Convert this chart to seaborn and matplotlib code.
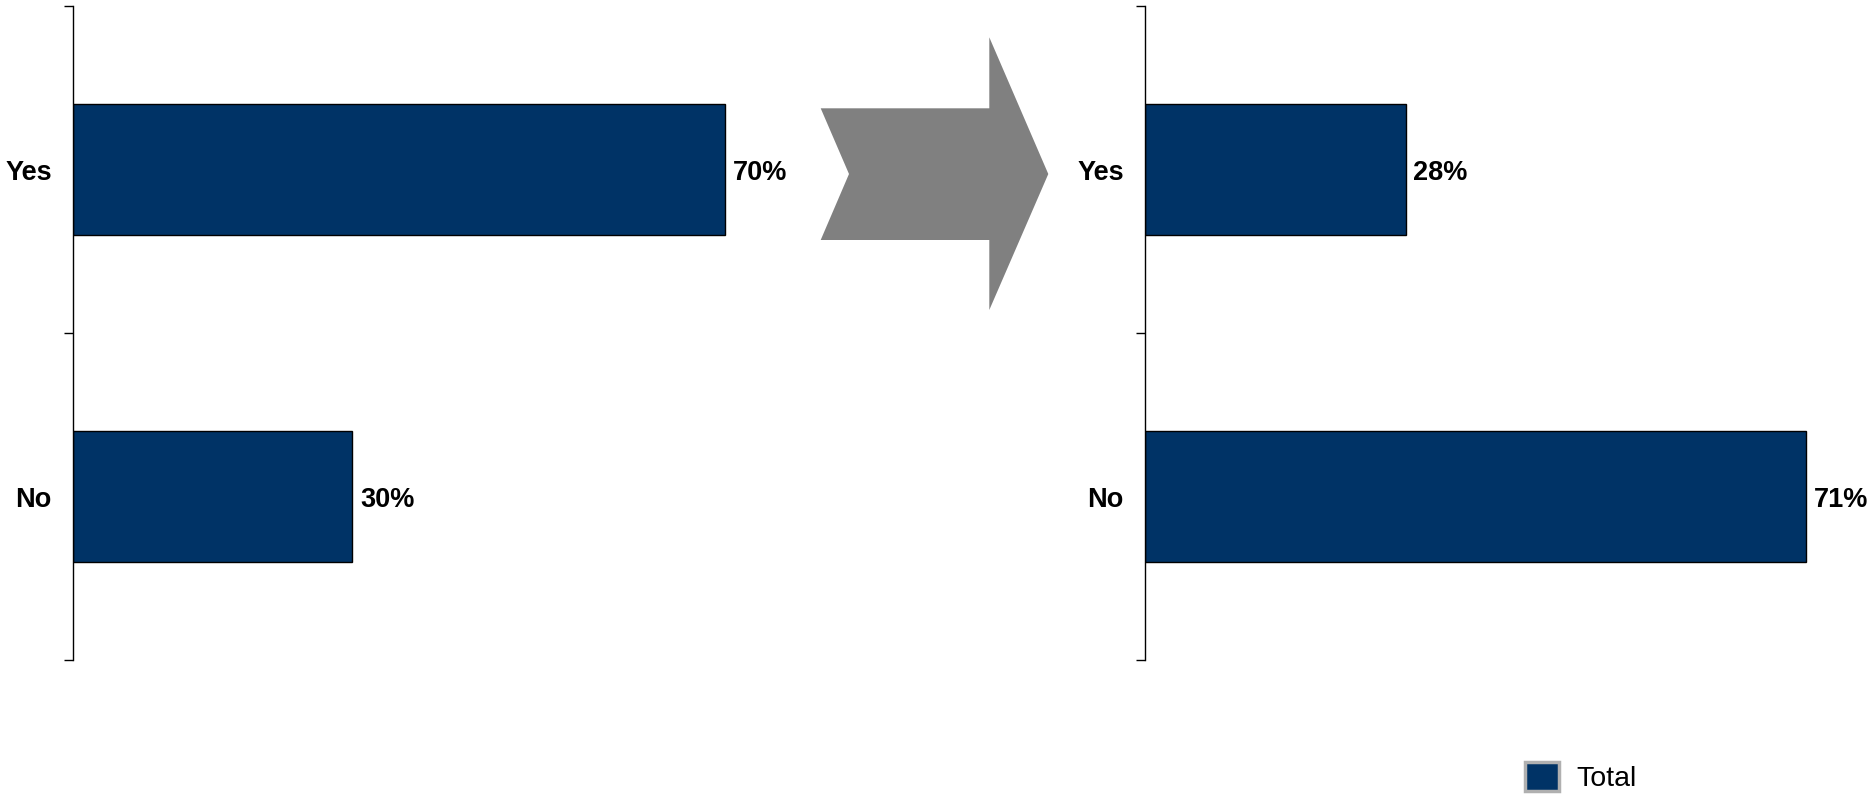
import matplotlib
matplotlib.use("Agg")
import matplotlib.pyplot as plt
import seaborn as sns
import pandas as pd
from matplotlib.patches import Polygon, Patch
from matplotlib.ticker import FixedLocator

# data
categories = ["Yes", "No"]
before_values = [70, 30]
after_values = [28, 71]
series_name = "Total"

bar_color = "#003366"

sns.set_style("white")
plt.rcParams["font.family"] = ["Liberation Sans", "DejaVu Sans"]
plt.rcParams["text.color"] = "black"
plt.rcParams["ytick.color"] = "black"
plt.rcParams["ytick.labelcolor"] = "black"

W, H = 1869, 796
fig = plt.figure(figsize=(W / 100, H / 100), dpi=100)

px_per_pct = 9.32
ax_w = 700
ax_bottom = (H - 660) / H
ax_height = 654 / H
xmax = ax_w / px_per_pct

ax1 = fig.add_axes([72.7 / W, ax_bottom, ax_w / W, ax_height])
ax2 = fig.add_axes([1144.6 / W, ax_bottom, ax_w / W, ax_height])


def draw_panel(ax, values):
    df = pd.DataFrame({"answer": categories, "pct": values})
    sns.barplot(data=df, x="pct", y="answer", orient="h", ax=ax,
                color=bar_color, width=0.4, edgecolor="black",
                linewidth=1.0, saturation=1)
    ax.set_xlim(0, xmax)
    ax.set_ylim(1.5, -0.5)
    ax.set_xlabel("")
    ax.set_ylabel("")
    ax.xaxis.set_visible(False)
    for side in ["top", "right", "bottom"]:
        ax.spines[side].set_visible(False)
    ax.spines["left"].set_color("black")
    ax.spines["left"].set_linewidth(1.0)
    ax.yaxis.set_minor_locator(FixedLocator([-0.5, 0.5, 1.5]))
    ax.tick_params(axis="y", which="minor", length=6.5, width=1.0,
                   color="black", direction="out", left=True)
    ax.tick_params(axis="y", which="major", length=0, pad=15,
                   labelsize=19.5, labelcolor="black")
    for lbl in ax.get_yticklabels():
        lbl.set_fontweight("bold")
    texts = ax.bar_label(ax.containers[0], labels=[f"{v}%" for v in values],
                         padding=5.5, fontsize=19.5, fontweight="bold",
                         color="black", clip_on=False)
    for t in texts:
        t.set_va("center_baseline")
    ax.patch.set_alpha(0)


draw_panel(ax1, before_values)
draw_panel(ax2, after_values)

# arrow between the two panels (figure pixel coords, y from top)
arrow_px = [(820.7, 108.3), (849, 174), (820.7, 240), (989.3, 240),
            (989.3, 310), (1048.3, 174), (989.3, 37.3), (989.3, 108.3)]
arrow_pts = [(x / W, 1 - y / H) for x, y in arrow_px]
fig.patches.append(Polygon(arrow_pts, closed=True, transform=fig.transFigure,
                           facecolor="#808080", edgecolor="none"))

# legend
handle = Patch(facecolor=bar_color, edgecolor="#b0b0b0", linewidth=2.5)
fig.legend([handle], [series_name], loc="center left",
           bbox_to_anchor=(1511 / W, 1 - 777 / H), frameon=False,
           fontsize=20.5, handlelength=1.2, handleheight=1.2,
           handletextpad=0.6, borderpad=0, labelcolor="black")

fig.savefig("out.png", dpi=100)
